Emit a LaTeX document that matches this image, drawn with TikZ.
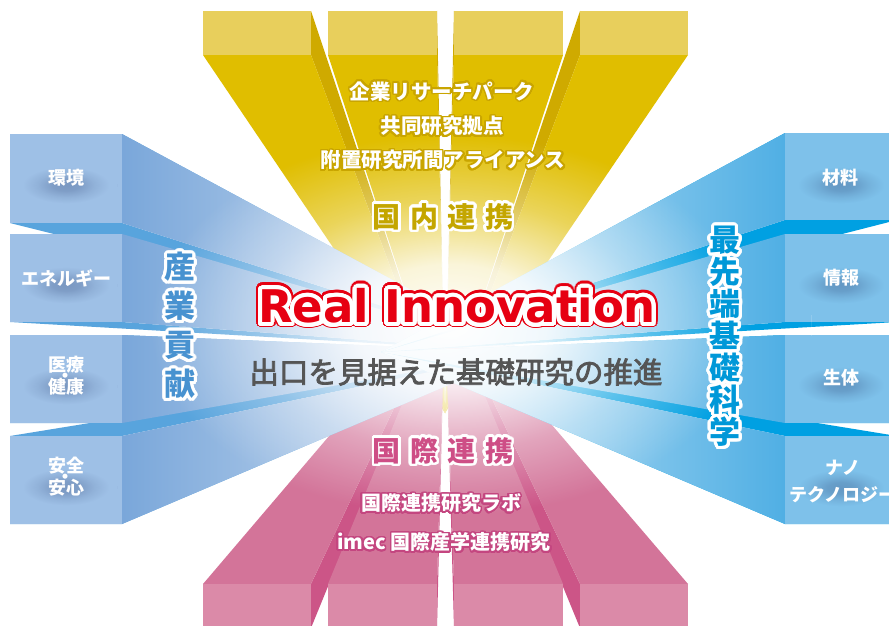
\documentclass[tikz,border=0pt]{standalone}
\usepackage{fontspec}
\setmainfont{Noto Sans CJK JP}
\newfontfamily\realfont{DejaVu Sans}
\newfontfamily\midfont[FakeBold=2.6]{Noto Sans CJK JP}
\usepackage[copies]{contour}
\contournumber{32}
\usetikzlibrary{fadings}

\definecolor{yelfront}{RGB}{232,207,92}
\definecolor{yelbody}{RGB}{224,190,0}
\definecolor{yelside}{RGB}{207,170,0}
\definecolor{yeltext}{RGB}{196,166,0}
\definecolor{yelhalo}{RGB}{201,165,0}
\definecolor{pinkfront}{RGB}{219,138,168}
\definecolor{pinkbody}{RGB}{211,116,153}
\definecolor{pinkside}{RGB}{204,85,135}
\definecolor{pinktext}{RGB}{206,78,134}
\definecolor{pinkhalo}{RGB}{196,70,128}
\definecolor{bluefront}{RGB}{158,192,230}
\definecolor{blueside}{RGB}{122,167,218}
\definecolor{bluestrip}{RGB}{88,164,221}
\definecolor{bluetext}{RGB}{72,146,208}
\definecolor{cyanfront}{RGB}{126,193,234}
\definecolor{cyanside}{RGB}{80,175,228}
\definecolor{cyanstrip}{RGB}{0,160,226}
\definecolor{cyantext}{RGB}{0,152,216}
\definecolor{realred}{RGB}{230,0,18}
\definecolor{graytext}{RGB}{85,85,85}
\definecolor{shadowblue}{RGB}{40,60,110}

\pgfdeclareradialshading{glowshade}{\pgfpoint{0bp}{0bp}}{color(0bp)=(white); color(16bp)=(white!85!black); color(33bp)=(white!35!black); color(50bp)=(black); color(60bp)=(black)}
\pgfdeclarefading{glowfade}{\pgfuseshading{glowshade}}

\newcommand\halo[3]{{\contourlength{#1}\contour{#2}{#3}}}
\newcommand\tightlines{\lineskiplimit-100pt\lineskip0pt}

\begin{document}
\begin{tikzpicture}[x=1pt,y=-1pt,
  facelbl/.style={text=white, align=center, font=\bfseries\fontsize{18}{11}\selectfont\tightlines},
  yellbl/.style={text=white, font=\bfseries\fontsize{20.5}{21}\selectfont},
  pinklbl/.style={text=white, font=\bfseries\fontsize{20}{21}\selectfont},
  bigjp/.style={font=\bfseries\fontsize{28}{28}\selectfont},
  vertjp/.style={align=center, font=\bfseries\fontsize{31}{39}\selectfont\tightlines}]
\useasboundingbox (0,0) rectangle (889,626);
\fill[white] (0,0) rectangle (889,626);
\coordinate (vtop) at (445,413);
\coordinate (vbot) at (445,300);
\coordinate (vleft) at (526,352);
\coordinate (vright) at (381,352);

% yellow bars
\foreach \xs in {311,437,454,580}
  \fill[yelside] (\xs,11) -- (\xs,55) -- (vtop) -- cycle;
\foreach \xl/\xr in {203/311,328/437,454/563,580/688}{
  \fill[yelbody] (\xl,55) -- (\xr,55) -- (vtop) -- cycle;
  \fill[yelfront] (\xl,11) rectangle (\xr,55);
}

% pink bars
\foreach \xs in {311,437,454,580}
  \fill[pinkside] (\xs,584) -- (\xs,628) -- (vbot) -- cycle;
\foreach \xl/\xr in {203/311,328/437,454/563,580/688}{
  \fill[pinkbody] (\xl,584) -- (\xr,584) -- (vbot) -- cycle;
  \fill[pinkfront] (\xl,584) rectangle (\xr,628);
}

% blue bars
\foreach \yt/\yb in {134/223,234/322,436/524,335/423}{
  \fill[bluestrip] (10,\yt) -- (122,\yt) -- (vleft) -- cycle;
  \fill[bluestrip] (10,\yb) -- (122,\yb) -- (vleft) -- cycle;
  \shade[left color=blueside, right color=blueside!25!white] (122,\yt) -- (122,\yb) -- (vleft) -- cycle;
  \fill[bluefront] (10,\yt) rectangle (122,\yb);
}
\foreach \yt/\yb in {133/220,234/322,436/524,335/423}{
  \fill[cyanstrip] (785,\yt) -- (897,\yt) -- (vright) -- cycle;
  \fill[cyanstrip] (785,\yb) -- (897,\yb) -- (vright) -- cycle;
  \shade[right color=cyanside, left color=cyanside!25!white] (785,\yt) -- (785,\yb) -- (vright) -- cycle;
  \fill[cyanfront] (785,\yt) rectangle (897,\yb);
}

\fill[white, path fading=glowfade, fit fading=false,
  fading transform={shift={(450,325)}, xscale=6, yscale=3.8}] (0,0) rectangle (889,626);

\foreach \x/\y in {66/185,66/285,66/386,66/487,841/185,841/285,841/385,841/488}
  \fill[shadowblue, opacity=.3, path fading=glowfade, fit fading=false,
    fading transform={shift={(\x,\y)}, xscale=.85, yscale=.36}] (\x-60,\y-30) rectangle (\x+60,\y+30);

\node[facelbl] (kankyo) at (66,178) {環境};
\node[facelbl] (energy) at (66,278) {エネルギー};
\node[facelbl] (iryo) at (66,376) {医療\\・\\健康};
\node[facelbl] (anzen) at (66,477) {安全\\・\\安心};
\node[facelbl] (zairyo) at (840,178) {材料};
\node[facelbl] (joho) at (841,278) {情報};
\node[facelbl] (seitai) at (841,378) {生体};
\node[facelbl, font=\bfseries\fontsize{18}{27}\selectfont] (nano) at (843,481) {ナノ\\テクノロジー};

\node[yellbl] (kigyo) at (442,92) {\halo{1.6pt}{yelhalo}{企業リサーチパーク}};
\node[yellbl] (kyodo) at (442,127) {\halo{1.6pt}{yelhalo}{共同研究拠点}};
\node[yellbl] (fuchi) at (443,161) {\halo{1.6pt}{yelhalo}{附置研究所間アライアンス}};
\node[bigjp, text=yeltext] (kokunai) at (443,218)
  {\halo{2.6pt}{white}{国\hspace{9.5pt}内\hspace{9.5pt}連\hspace{9.5pt}携}};

\node[bigjp, text=pinktext] (kokusai) at (443,452)
  {\halo{2.6pt}{white}{国\hspace{9.5pt}際\hspace{9.5pt}連\hspace{9.5pt}携}};
\node[pinklbl] (labo) at (441,504) {\halo{1.6pt}{pinkhalo}{国際連携研究ラボ}};
\node[pinklbl] (imec) at (444,543) {\halo{1.6pt}{pinkhalo}{imec 国際産学連携研究}};

\node[vertjp, text=bluetext] (sangyo) at (180,327)
  {\halo{3pt}{white}{産}\\\halo{3pt}{white}{業}\\\halo{3pt}{white}{貢}\\\halo{3pt}{white}{献}};
\node[vertjp, text=cyantext, font=\bfseries\fontsize{31}{32}\selectfont\tightlines] (kiso) at (725,338)
  {\halo{3pt}{white}{最}\\\halo{3pt}{white}{先}\\\halo{3pt}{white}{端}\\\halo{3pt}{white}{基}\\\halo{3pt}{white}{礎}\\\halo{3pt}{white}{科}\\\halo{3pt}{white}{学}};

\node[text=realred, font=\realfont\bfseries\fontsize{45}{45}\selectfont] (real) at (457,308)
  {\halo{6pt}{realred}{Real Innovation}};
\node[text=realred, font=\realfont\bfseries\fontsize{45}{45}\selectfont] (realw) at (real)
  {\halo{4pt}{white}{Real Innovation}};
\node[text=graytext, font=\midfont\fontsize{29.5}{30}\selectfont] (deguchi) at (456,372)
  {出口を見据えた基礎研究の推進};
\end{tikzpicture}
\end{document}
